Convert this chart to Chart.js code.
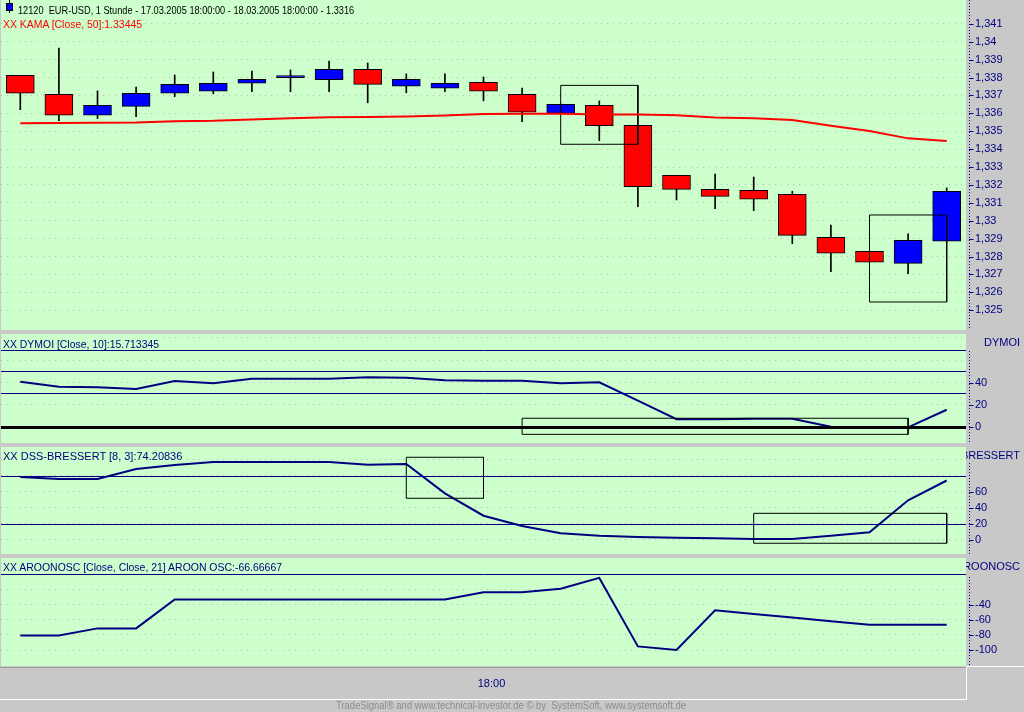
<!DOCTYPE html>
<html><head><meta charset="utf-8">
<script src="https://cdn.jsdelivr.net/npm/chart.js@4.4.1/dist/chart.umd.min.js"></script>
<style>
html,body{margin:0;padding:0}
body{width:1024px;height:712px;position:relative;overflow:hidden;background:#C8C8C8;font-family:'Liberation Sans',Arial,sans-serif}
canvas{position:absolute;left:0}
.t{position:absolute;font-size:11px;line-height:10px;padding-top:3px;white-space:nowrap;background:#CCFFCC;transform-origin:0 50%;color:#000080;padding-right:1px}
.hdr{position:absolute;left:966px;width:58px;height:15px;overflow:hidden;color:#000080;font-size:11px;line-height:15px}
.hdr span{position:absolute;right:4px;top:0;white-space:nowrap}
.ln{position:absolute}
</style></head><body>
<canvas id="cPrice" width="1024" height="330" style="top:0"></canvas>
<canvas id="cDym" width="1024" height="109" style="top:334px"></canvas>
<canvas id="cDss" width="1024" height="107" style="top:447px"></canvas>
<canvas id="cAro" width="1024" height="142" style="top:558px"></canvas>

<div class="ln" style="left:9px;top:0;width:1px;height:13px;background:#000"></div>
<div class="ln" style="left:6px;top:3px;width:5px;height:6px;background:#0000FF;border:1px solid #000"></div>
<div class="t" style="left:18px;top:1.6px;color:#000" data-w="337">12120&nbsp; EUR-USD, 1 Stunde - 17.03.2005 18:00:00 - 18.03.2005 18:00:00 - 1.3316</div>
<div class="t" style="left:3px;top:16px;color:#FF0000" data-w="140">XX KAMA [Close, 50]:1.33445</div>
<div class="t" style="left:3px;top:336.3px" data-w="157">XX DYMOI [Close, 10]:15.713345</div>
<div class="t" style="left:3px;top:447.6px">XX DSS-BRESSERT [8, 3]:74.20836</div>
<div class="t" style="left:3px;top:559.1px" data-w="280">XX AROONOSC [Close, Close, 21] AROON OSC:-66.66667</div>

<div class="hdr" style="top:335px"><span>DYMOI</span></div>
<div class="hdr" style="top:448px"><span>DSS-BRESSERT</span></div>
<div class="hdr" style="top:559px"><span>AROONOSC</span></div>

<div class="ln" style="left:0;top:667px;width:966px;height:1px;background:#9A9A9A"></div>
<div class="ln" style="left:0;top:699px;width:967px;height:1px;background:#FFFFFF"></div>
<div class="ln" style="left:966px;top:666px;width:58px;height:1px;background:#FFFFFF"></div>
<div class="ln" style="left:966px;top:666px;width:1px;height:34px;background:#FFFFFF"></div>
<div class="t" style="left:336px;top:697.6px;font-size:10px;color:#8C8C8C;background:none" data-w="351">TradeSignal® and www.technical-investor.de © by&nbsp; SystemSoft, www.systemsoft.de</div>

<script>
// ---------------- data ----------------
const timeLabels = ['','','','','','','','','','','','','18:00','','','','','','','','','','','',''];
const opens  = [1.33812,1.33706,1.33589,1.33639,1.33712,1.33723,1.33768,1.33799,1.33788,1.33846,1.33751,1.33740,1.33773,1.33706,1.33600,1.33645,1.33533,1.33254,1.33175,1.33170,1.33147,1.32907,1.32829,1.32762,1.32885];
const highs  = [1.33812,1.33965,1.33725,1.33747,1.33814,1.33831,1.33836,1.33842,1.33892,1.33881,1.33820,1.33820,1.33803,1.33741,1.33652,1.33669,1.33533,1.33254,1.33261,1.33244,1.33164,1.32976,1.32829,1.32926,1.33183];
const lows   = [1.33620,1.33559,1.33571,1.33581,1.33693,1.33709,1.33721,1.33721,1.33721,1.33659,1.33715,1.33721,1.33670,1.33553,1.33598,1.33447,1.33078,1.33116,1.33067,1.33056,1.32872,1.32715,1.32768,1.32704,1.32885];
const closes = [1.33712,1.33589,1.33645,1.33712,1.33762,1.33768,1.33790,1.33799,1.33846,1.33762,1.33790,1.33768,1.33723,1.33606,1.33650,1.33531,1.33190,1.33175,1.33136,1.33120,1.32918,1.32818,1.32768,1.32891,1.33164];
const kama   = [1.33545,1.33546,1.33547,1.33548,1.33555,1.33558,1.33566,1.33572,1.33578,1.33580,1.33582,1.33588,1.33596,1.33597,1.33597,1.33594,1.33594,1.33589,1.33576,1.33572,1.33563,1.33531,1.33501,1.33460,1.33445];
const dymoi  = [40.8,36.4,35.8,34.3,41.5,39.4,43.5,43.5,43.5,44.8,44.4,42.2,41.7,41.7,39.4,40.3,23.8,7.2,7.2,7.7,7.7,0.4,0,0,15.71];
const dss    = [78.6,76.1,76.1,88.7,93.8,97.5,97.5,97.5,97.5,94,95,58,30,17.1,7.9,4.9,3.3,2.4,1.6,0.8,0.8,4.9,9.2,49.4,74.21];
const aroon  = [-80.95,-80.95,-71.43,-71.43,-33.33,-33.33,-33.33,-33.33,-33.33,-33.33,-33.33,-33.33,-23.81,-23.81,-19.05,-4.76,-95.24,-100,-47.62,-52.38,-57.14,-61.90,-66.67,-66.67,-66.67];

// pattern boxes (from-index, to-index, top, bottom)
const priceBoxFrom = [14, 22], priceBoxTo = [16, 24];
const priceBoxTop = [1.33756, 1.33032], priceBoxBottom = [1.33427, 1.32546];
const dymoiBoxFrom = [13], dymoiBoxTo = [23], dymoiBoxTop = [8.1], dymoiBoxBottom = [-6.3];
const dssBoxFrom = [10, 19], dssBoxTo = [12, 24], dssBoxTop = [103.4, 33.0], dssBoxBottom = [51.9, -4.6];

// indicator levels
const dymoiLevels = [69, 50, 31];
const dymoiZero = [0];
const dssLevels = [80, 20];
const aroonLevels = [0];

// axis ticks
const priceTicks = [1.325,1.326,1.327,1.328,1.329,1.330,1.331,1.332,1.333,1.334,1.335,1.336,1.337,1.338,1.339,1.340,1.341];
const priceTickLabels = ['1,325','1,326','1,327','1,328','1,329','1,33','1,331','1,332','1,333','1,334','1,335','1,336','1,337','1,338','1,339','1,34','1,341'];
const dymoiTicks = [0,20,40,60,80];
const dymoiTickLabels = ['0','20','40','',''];
const dssTicks = [0,20,40,60,80,100];
const dssTickLabels = ['0','20','40','60','',''];
const aroonTicks = [-100,-80,-60,-40,-20,0];
const aroonTickLabels = ['-100','-80','-60','-40','',''];

// ---------------- chart setup ----------------
const GREEN = '#CCFFCC', NAVY = '#000080', GRIDC = '#C4B4C4';
Chart.defaults.font.family = "'Liberation Sans', Arial, sans-serif";
Chart.defaults.font.size = 11;
Chart.defaults.animation = false;
Chart.defaults.events = [];
Chart.defaults.plugins.legend.display = false;
Chart.defaults.plugins.tooltip.enabled = false;

const panelPlugin = {
  id: 'panel',
  beforeDraw(chart) {
    const {ctx, chartArea: a} = chart;
    ctx.save(); ctx.fillStyle = GREEN;
    ctx.fillRect(a.left, a.top, a.right - a.left, a.bottom - a.top);
    ctx.restore();
  },
  afterDatasetsDraw(chart, args, opts) {
    const {ctx, chartArea: a} = chart, y = chart.scales.y;
    ctx.save();
    (opts.levels || []).forEach(L => {
      L.values.forEach(v => {
        let py = y.getPixelForValue(v);
        py = L.width % 2 ? Math.round(py) + 0.5 : Math.round(py);
        ctx.strokeStyle = L.color; ctx.lineWidth = L.width;
        ctx.beginPath(); ctx.moveTo(a.left, py); ctx.lineTo(a.right, py); ctx.stroke();
      });
    });
    ctx.restore();
  },
  afterDraw(chart, args, opts) {
    const {ctx, chartArea: a} = chart, y = chart.scales.y;
    const x0 = y.left + 3.5;
    ctx.save();
    ctx.strokeStyle = NAVY; ctx.lineWidth = 1;
    ctx.setLineDash([1, 2]);
    ctx.beginPath(); ctx.moveTo(x0, a.top + (opts.axisTop || 0)); ctx.lineTo(x0, a.bottom); ctx.stroke();
    ctx.setLineDash([]);
    ctx.beginPath();
    y.ticks.forEach(t => {
      if (!t.label) return;
      const py = Math.round(y.getPixelForValue(t.value)) + 0.5;
      ctx.moveTo(x0 - 0.5, py); ctx.lineTo(x0 + 4, py);
    });
    ctx.stroke();
    ctx.restore();
  }
};

function yScale(min, max, ticks, labels) {
  return {
    type: 'linear', position: 'right', min, max,
    afterBuildTicks: s => { s.ticks = ticks.map(v => ({value: v})); },
    afterFit: s => { s.width = 58; s.paddingTop = 0; s.paddingBottom = 0; },
    grid: { color: GRIDC, lineWidth: 1, drawTicks: false },
    border: { display: false, dash: [1, 5] },
    ticks: { color: NAVY, padding: 9, autoSkip: false, font: {size: 11}, callback: (v, i) => labels[i] }
  };
}
const xHidden = { type: 'linear', min: -0.5, max: 24.5, offset: false, display: false };

function pts(arr) { return arr.map((v, i) => ({x: i, y: v})); }
function boxSets(from, to, top, bottom) {
  return from.map((f, k) => ({
    type: 'line',
    data: [{x: f, y: top[k]}, {x: to[k], y: top[k]}, {x: to[k], y: bottom[k]}, {x: f, y: bottom[k]}, {x: f, y: top[k]}],
    borderColor: '#000', borderWidth: 1, pointRadius: 0, tension: 0, fill: false, order: 0
  }));
}
function lineSet(arr, color, order) {
  return { type: 'line', data: pts(arr), borderColor: color, borderWidth: 2, pointRadius: 0, tension: 0, fill: false, order: order };
}
const baseOpts = (yS, xS, panelOpts) => ({
  responsive: false, maintainAspectRatio: false, animation: false,
  layout: { padding: {left: 1, right: 0, top: 0, bottom: 0} },
  scales: { x: xS, y: yS },
  plugins: { panel: panelOpts }
});

// Price chart
new Chart(document.getElementById('cPrice'), {
  type: 'bar',
  data: { datasets: [
    lineSet(kama, '#FF0000', 0),
    ...boxSets(priceBoxFrom, priceBoxTo, priceBoxTop, priceBoxBottom),
    { type: 'bar', data: opens.map((o, i) => ({x: i, y: [o, closes[i]]})),
      backgroundColor: opens.map((o, i) => closes[i] >= o ? '#0000FF' : '#FF0000'),
      borderColor: '#000', borderWidth: 1, borderSkipped: false, barThickness: 28, minBarLength: 2, grouped: false, order: 1 },
    { type: 'bar', data: lows.map((l, i) => ({x: i, y: [l, highs[i]]})),
      backgroundColor: '#000', borderWidth: 0, barThickness: 1, grouped: false, order: 2 }
  ]},
  options: baseOpts(yScale(1.323894, 1.34233, priceTicks, priceTickLabels), xHidden, {axisTop: 0}),
  plugins: [panelPlugin]
});

// DYMOI
new Chart(document.getElementById('cDym'), {
  type: 'line',
  data: { datasets: [ lineSet(dymoi, NAVY, 1), ...boxSets(dymoiBoxFrom, dymoiBoxTo, dymoiBoxTop, dymoiBoxBottom) ] },
  options: baseOpts(yScale(-14.06, 83.55, dymoiTicks, dymoiTickLabels), xHidden,
    {axisTop: 17, levels: [{values: dymoiLevels, color: NAVY, width: 1}, {values: dymoiZero, color: '#000', width: 3}]}),
  plugins: [panelPlugin]
});

// DSS-BRESSERT
new Chart(document.getElementById('cDss'), {
  type: 'line',
  data: { datasets: [ lineSet(dss, NAVY, 1), ...boxSets(dssBoxFrom, dssBoxTo, dssBoxTop, dssBoxBottom) ] },
  options: baseOpts(yScale(-18.1, 116.3, dssTicks, dssTickLabels), xHidden,
    {axisTop: 16, levels: [{values: dssLevels, color: NAVY, width: 1}]}),
  plugins: [panelPlugin]
});

// AROONOSC (with time axis)
new Chart(document.getElementById('cAro'), {
  type: 'line',
  data: { datasets: [ lineSet(aroon, NAVY, 1) ] },
  options: baseOpts(yScale(-121.1, 21.5, aroonTicks, aroonTickLabels), {
      type: 'linear', min: -0.5, max: 24.5, offset: false, position: 'bottom',
      afterBuildTicks: s => { s.ticks = timeLabels.map((l, i) => ({value: i})).filter(t => timeLabels[t.value]); },
      afterFit: s => { s.height = 34; s.paddingLeft = 0; s.paddingRight = 0; },
      grid: { display: false, drawTicks: false }, border: { display: false },
      ticks: { color: NAVY, padding: 11, labelOffset: 8, maxRotation: 0, autoSkip: false, font: {size: 11}, callback: v => timeLabels[v] }
    },
    {axisTop: 19, levels: [{values: aroonLevels, color: NAVY, width: 1}]}),
  plugins: [panelPlugin]
});

// fit title widths to the reference
document.querySelectorAll('[data-w]').forEach(el => {
  const w = el.getBoundingClientRect().width;
  if (w > 0) el.style.transform = 'scaleX(' + (el.dataset.w / w) + ')';
});
</script>
</body></html>
